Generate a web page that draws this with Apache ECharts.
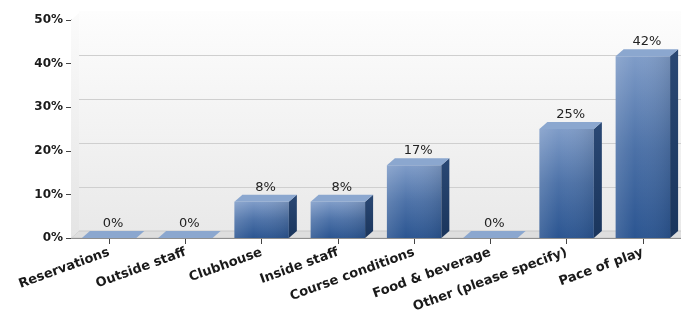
<!DOCTYPE html>
<html><head><meta charset="utf-8">
<script src="https://cdn.jsdelivr.net/npm/echarts@6/dist/echarts.min.js"></script>
<style>html,body{margin:0;padding:0;background:#fff}#c{width:681px;height:320px}</style>
</head><body><div id="c"></div>
<script>
const categories = ['Reservations','Outside staff','Clubhouse','Inside staff','Course conditions','Food & beverage','Other (please specify)','Pace of play'];
const values = [0, 0, 8.33, 8.33, 16.67, 0, 25, 41.67];
const yTicks = [0, 10, 20, 30, 40, 50];

const DX = 8, DY = 7;
const chart = echarts.init(document.getElementById('c'), null, {renderer: 'canvas'});
const font = 'DejaVu Sans, Verdana, sans-serif';

function barItem(params, api) {
  const v = api.value(1);
  const top = api.coord([api.value(0), v]);
  const base = api.coord([api.value(0), 0]);
  const bw = api.size([1, 0])[0] * 0.714;
  const l = top[0] - bw / 2, r = top[0] + bw / 2, y = top[1], b = base[1];
  const children = [];
  if (b - y > 0.5) {
    children.push({type: 'rect', shape: {x: l, y: y, width: bw, height: b - y},
      style: {fill: new echarts.graphic.LinearGradient(0, 0, 0, 1, [
        {offset: 0, color: '#7f9cc8'}, {offset: 0.5, color: '#4d72a8'}, {offset: 1, color: '#2b5591'}])}});
    children.push({type: 'rect', shape: {x: l, y: y, width: bw, height: b - y},
      style: {fill: new echarts.graphic.LinearGradient(0, 0, 1, 0, [
        {offset: 0, color: 'rgba(255,255,255,0.12)'}, {offset: 0.35, color: 'rgba(255,255,255,0.0)'}, {offset: 1, color: 'rgba(0,0,0,0.10)'}])}});
    children.push({type: 'polygon', shape: {points: [[r, y], [r + DX, y - DY], [r + DX, b - DY], [r, b]]},
      style: {fill: new echarts.graphic.LinearGradient(0, 0, 0, 1, [
        {offset: 0, color: '#2a4874'}, {offset: 1, color: '#1a355c'}])}});
  }
  children.push({type: 'polygon', shape: {points: [[l, y], [l + DX, y - DY], [r + DX, y - DY], [r, y]]},
    style: {fill: '#8ba7cf'}});
  children.push({type: 'text', style: {text: Math.round(v) + '%', x: top[0] + DX / 2, y: y - DY - 1,
    align: 'center', verticalAlign: 'bottom', fill: '#222', font: '13px ' + font}});
  return {type: 'group', children: children};
}

function floorItem(params, api) {
  const cs = params.coordSys;
  const x0 = cs.x, y0 = cs.y, x1 = cs.x + cs.width, y1 = cs.y + cs.height;
  return {type: 'group', silent: true, children: [
    {type: 'polygon', shape: {points: [[x0, y1], [x0 + DX, y1 - DY], [x1 + DX, y1 - DY], [x1, y1]]},
      style: {fill: '#dedede', stroke: '#c8c8c8', lineWidth: 1}},
    {type: 'polygon', shape: {points: [[x0, y0], [x0 + DX, y0 - DY], [x0 + DX, y1 - DY], [x0, y1]]},
      style: {fill: new echarts.graphic.LinearGradient(0, 0, 0, 1, [
        {offset: 0, color: '#fbfbfb'}, {offset: 1, color: '#e4e4e4'}])}}
  ]};
}

chart.setOption({
  animation: false,
  backgroundColor: '#ffffff',
  grid: [
    {left: 71, top: 20, width: 616, height: 218},
    {left: 79, top: 11, width: 616, height: 220, show: true, borderWidth: 0,
     backgroundColor: new echarts.graphic.LinearGradient(0, 0, 0, 1, [
       {offset: 0, color: '#fdfdfd'}, {offset: 1, color: '#e9e9e9'}])}
  ],
  xAxis: [
    {type: 'category', gridIndex: 0, data: categories,
     axisLine: {show: true, lineStyle: {color: '#555', width: 1}},
     axisTick: {show: true, alignWithLabel: true, length: 6, lineStyle: {color: '#444'}},
     axisLabel: {interval: 0, rotate: 20, margin: 14, color: '#1a1a1a', fontWeight: 'bold', fontSize: 13, fontFamily: font}},
    {type: 'category', gridIndex: 1, data: categories, show: false}
  ],
  yAxis: [
    {type: 'value', gridIndex: 0, min: 0, max: 50, interval: 10,
     axisLine: {show: true, lineStyle: {color: '#555', width: 1}},
     axisTick: {show: true, length: 5, lineStyle: {color: '#444'}},
     splitLine: {show: false},
     axisLabel: {formatter: v => yTicks.includes(v) ? v + '%' : '', color: '#1a1a1a', fontWeight: 'bold', fontSize: 12, fontFamily: font, margin: 8}},
    {type: 'value', gridIndex: 1, min: 0, max: 50, interval: 10,
     axisLine: {show: false}, axisTick: {show: false}, axisLabel: {show: false},
     splitLine: {show: true, lineStyle: {color: ['#cfcfcf','#cfcfcf','#cfcfcf','#cfcfcf','#cfcfcf','rgba(0,0,0,0)'], width: 1}}}
  ],
  series: [
    {type: 'custom', xAxisIndex: 0, yAxisIndex: 0, data: [[0, 0]], renderItem: floorItem, z: 1, silent: true},
    {type: 'custom', xAxisIndex: 0, yAxisIndex: 0, data: values.map((v, i) => [i, v]), renderItem: barItem, z: 3,
     encode: {x: 0, y: 1}}
  ]
});
</script></body></html>
